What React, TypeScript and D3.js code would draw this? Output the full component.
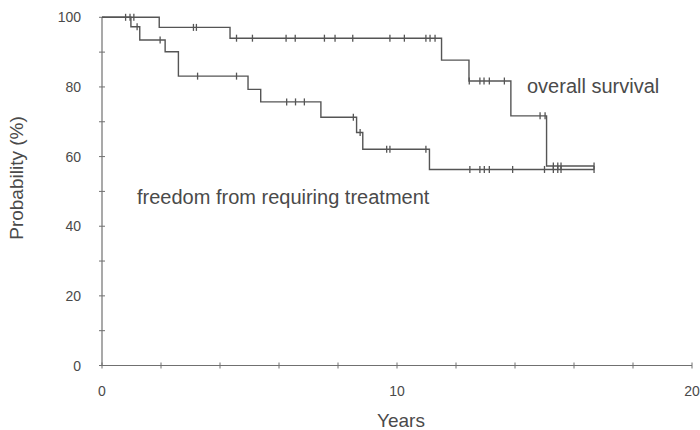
import { useEffect, useRef } from "react"
import * as d3 from "d3"

// overall survival (upper curve)
const osTimes = [0, 1.94, 4.34, 11.51, 12.44, 13.86, 15.07]
const osValues = [100, 97.1, 94.0, 87.7, 81.7, 71.7, 57.3]
const osCensored = [0.8, 0.95, 1.08, 3.1, 3.2, 4.56, 5.1, 6.24, 6.55, 7.54, 7.9, 8.5, 9.76, 10.25, 10.98, 11.12, 11.29, 12.45, 12.81, 12.95, 13.13, 13.64, 14.85, 15.02, 15.3, 15.45, 15.56, 16.68]

// freedom from requiring treatment (lower curve)
const ftTimes = [0, 0.98, 1.28, 2.14, 2.59, 4.95, 5.38, 7.42, 8.63, 8.84, 11.1]
const ftValues = [100, 97.3, 93.5, 90.1, 83.1, 79.3, 75.7, 71.3, 66.9, 62.1, 56.3]
const ftCensored = [1.19, 1.97, 3.24, 4.56, 6.26, 6.56, 6.86, 8.52, 8.75, 9.65, 9.76, 10.98, 12.47, 12.81, 12.96, 13.13, 13.92, 15.0, 15.3, 15.45, 15.56, 16.68]

const followUpEnd = 16.68

const xTicks = d3.range(0, 21, 2)
const xTickLabels = [0, 10, 20]
const yTicks = d3.range(0, 101, 10)
const yTickLabels = [0, 20, 40, 60, 80, 100]

export default function App() {

  const ref = useRef<SVGSVGElement | null>(null)

  useEffect(()=>{

    const svg = d3.select(ref.current)
    svg.selectAll("*").remove()

    const width = 700
    const height = 430

    const x = d3.scaleLinear().domain([0,20]).range([102,692])
    const y = d3.scaleLinear().domain([0,100]).range([365.5,17.3])

    svg.attr("width",width).attr("height",height)

    const axisColor = "#707070"
    const lineColor = "#555"
    const textColor = "#4a4a4a"
    const font = "Liberation Sans, Arial, sans-serif"

    // axes
    svg.append("line")
      .attr("x1",x(0)).attr("x2",x(20))
      .attr("y1",y(0)).attr("y2",y(0))
      .attr("stroke",axisColor).attr("stroke-width",1.2)
    svg.append("line")
      .attr("x1",x(0)).attr("x2",x(0))
      .attr("y1",y(0)).attr("y2",y(100))
      .attr("stroke",axisColor).attr("stroke-width",1.2)

    svg.append("g").selectAll("line")
      .data(xTicks)
      .enter()
      .append("line")
      .attr("x1",d=>x(d)).attr("x2",d=>x(d))
      .attr("y1",y(0)-3).attr("y2",y(0)+3)
      .attr("stroke",axisColor)

    svg.append("g").selectAll("line")
      .data(yTicks)
      .enter()
      .append("line")
      .attr("x1",x(0)-3).attr("x2",x(0)+3)
      .attr("y1",d=>y(d)).attr("y2",d=>y(d))
      .attr("stroke",axisColor)

    svg.append("g").selectAll("text")
      .data(xTickLabels)
      .enter()
      .append("text")
      .attr("x",d=>x(d))
      .attr("y",396)
      .attr("text-anchor","middle")
      .attr("font-family",font)
      .attr("font-size",14)
      .attr("fill",textColor)
      .text(d=>d)

    svg.append("g").selectAll("text")
      .data(yTickLabels)
      .enter()
      .append("text")
      .attr("x",81)
      .attr("y",d=>y(d)+5)
      .attr("text-anchor","end")
      .attr("font-family",font)
      .attr("font-size",14)
      .attr("fill",textColor)
      .text(d=>d)

    svg.append("text")
      .attr("x",401).attr("y",427)
      .attr("text-anchor","middle")
      .attr("font-family",font)
      .attr("font-size",19)
      .attr("fill",textColor)
      .text("Years")

    svg.append("text")
      .attr("transform","translate(23,178) rotate(-90)")
      .attr("text-anchor","middle")
      .attr("font-family",font)
      .attr("font-size",19)
      .attr("fill",textColor)
      .text("Probability (%)")

    // curves
    const curves = [
      {times:osTimes, values:osValues, censored:osCensored},
      {times:ftTimes, values:ftValues, censored:ftCensored}
    ]

    const line = d3.line<[number,number]>()
      .x(d=>x(d[0]))
      .y(d=>y(d[1]))
      .curve(d3.curveStepAfter)

    curves.forEach(c=>{
      const pts: [number,number][] = c.times.map((t,i)=>[t,c.values[i]])
      pts.push([followUpEnd,c.values[c.values.length-1]])

      svg.append("path")
        .attr("d",line(pts))
        .attr("fill","none")
        .attr("stroke",lineColor)
        .attr("stroke-width",1.4)

      const valueAt = (t:number)=>{
        const i = d3.bisectRight(c.times,t)-1
        return c.values[Math.max(0,i)]
      }

      svg.append("g").selectAll("line")
        .data(c.censored)
        .enter()
        .append("line")
        .attr("x1",d=>x(d)).attr("x2",d=>x(d))
        .attr("y1",d=>y(valueAt(d))-3.5)
        .attr("y2",d=>y(valueAt(d))+3.5)
        .attr("stroke",lineColor)
        .attr("stroke-width",1.3)
    })

    svg.append("text")
      .attr("x",527).attr("y",93)
      .attr("font-family",font)
      .attr("font-size",20)
      .attr("fill",textColor)
      .text("overall survival")

    svg.append("text")
      .attr("x",137).attr("y",204)
      .attr("font-family",font)
      .attr("font-size",20)
      .attr("fill",textColor)
      .text("freedom from requiring treatment")

  },[])

  return <svg ref={ref} style={{position:"absolute",left:0,top:0}} />
}
